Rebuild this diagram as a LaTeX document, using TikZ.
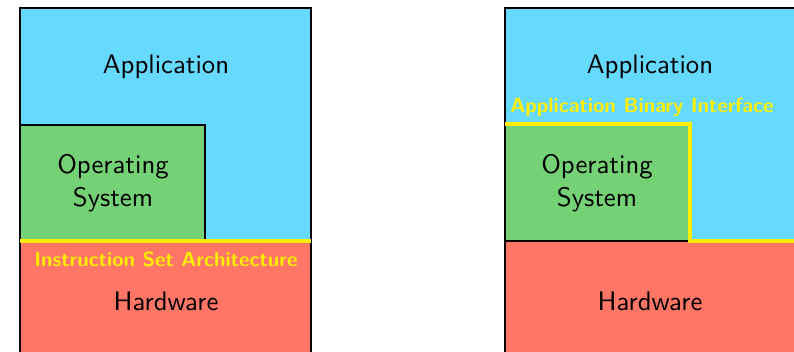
\documentclass[tikz,border=0pt]{standalone}
\definecolor{appblue}{RGB}{102,217,255}
\definecolor{osgreen}{RGB}{117,209,117}
\definecolor{hwred}{RGB}{255,117,102}
\definecolor{ifyellow}{RGB}{255,238,0}
\begin{document}
\begin{tikzpicture}[x=0.4pt,y=-0.4pt,
  layer/.style={draw=black,line width=0.8pt},
  lbl/.style={font=\sffamily\fontsize{10.7}{13.4}\selectfont,text=black,align=center,inner sep=0pt},
  iflbl/.style={font=\sffamily\bfseries\fontsize{8.2}{9}\selectfont,text=ifyellow,inner sep=0pt},
  ifline/.style={draw=ifyellow,line width=1.4pt}]
\useasboundingbox (0,0) rectangle (794,352);
\clip (0,0) rectangle (794,352);
% ---------- left diagram ----------
\draw[layer,fill=appblue] (20,8) rectangle (311,400);
\draw[layer,fill=hwred] (20,241) rectangle (311,400);
\draw[layer,fill=osgreen] (20,125) rectangle (205,241);
\draw[ifline] (20,241) -- (311,241);
\node[lbl] (appL) at (166,67) {Application};
\node[lbl] (osL) at (113,183) {Operating\\System};
\node[lbl] (hwL) at (166,301) {Hardware};
\node[iflbl] (isa) at (166,259) {Instruction Set Architecture};
% ---------- right diagram ----------
\draw[layer,fill=appblue] (505,8) rectangle (800,400);
\draw[layer,fill=hwred] (505,241) rectangle (800,400);
\draw[layer,fill=osgreen] (505,124) rectangle (690,241);
\draw[ifline] (505,124) -- (690,124) -- (690,241) -- (800,241);
\node[lbl] (appR) at (650,67) {Application};
\node[lbl] (osR) at (597,183) {Operating\\System};
\node[lbl] (hwR) at (650,301) {Hardware};
\node[iflbl] (abi) at (642,107) {Application Binary Interface};
\end{tikzpicture}
\end{document}
